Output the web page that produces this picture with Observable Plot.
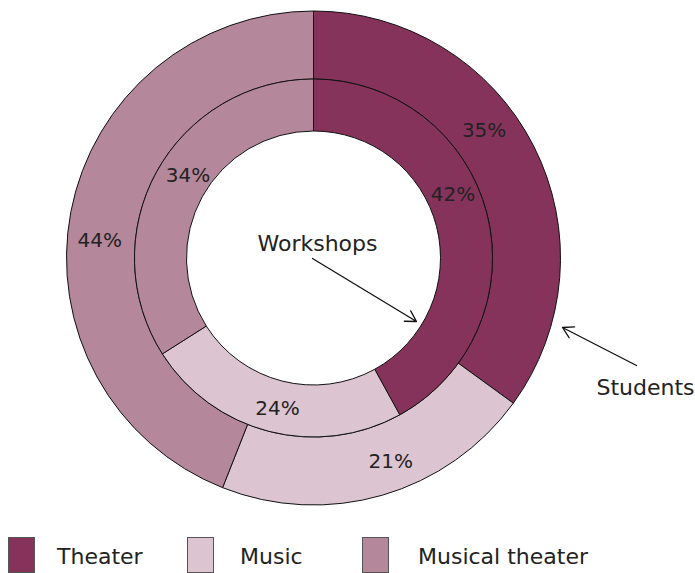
<!DOCTYPE html>
<html>
<head>
<meta charset="utf-8">
<script src="https://cdn.jsdelivr.net/npm/d3@7"></script>
<script src="https://cdn.jsdelivr.net/npm/@observablehq/plot@0.6"></script>
<style>
  html, body { margin: 0; padding: 0; background: #fff; }
  body { width: 695px; height: 573px; overflow: hidden; position: relative; font-family: "DejaVu Sans", sans-serif; color: #222; }
  #legend { position: absolute; left: 0; top: 537px; width: 695px; height: 36px; }
  .sw { position: absolute; top: 0; width: 27px; height: 36px; border: 1px solid #555; box-sizing: border-box; }
  .lb { position: absolute; top: 7px; font-size: 22px; line-height: 26px; color: #222; }
</style>
</head>
<body>
<div id="chart"></div>
<div id="legend"></div>
<script>
// ---- data ----
const categories = ["Theater", "Music", "Musical theater"];
const colors = ["#86335b", "#dcc5d1", "#b5879b"];
const studentsPct = [35, 21, 44];
const workshopsPct = [42, 24, 34];
const ringNames = ["Students", "Workshops"];

// ---- layout constants ----
const W = 695, H = 530;
const cx = 313.5, cy = 258;
// label placement (degrees clockwise from top, radius) per category, as in the reference
const studentsLabelPos = [[53, 213], [159.3, 217], [274.8, 215]];
const workshopsLabelPos = [[65.3, 153], [193.7, 154], [303.5, 151]];
const rings = [
  {name: "Students", values: studentsPct, inner: 179, outer: 247, labelPos: studentsLabelPos},
  {name: "Workshops", values: workshopsPct, inner: 127, outer: 179, labelPos: workshopsLabelPos}
];

const pie = d3.pie().sort(null).value(d => d.value);
const slices = [];
for (const ring of rings) {
  const arcs = pie(categories.map((c, i) => ({category: c, value: ring.values[i], color: colors[i], idx: i})));
  for (const a of arcs) slices.push({...a, ring});
}

function ringMark(index, scales) {
  const g = d3.create("svg:g");
  const X = scales.x(cx), Y = scales.y(cy);
  for (const s of slices) {
    const arc = d3.arc().innerRadius(s.ring.inner).outerRadius(s.ring.outer);
    g.append("path")
      .attr("d", arc(s))
      .attr("transform", `translate(${X},${Y})`)
      .attr("fill", s.data.color)
      .attr("stroke", "#111")
      .attr("stroke-width", 1);
  }
  return g.node();
}

const labels = slices.map(s => {
  const [deg, r] = s.ring.labelPos[s.data.idx];
  const a = deg * Math.PI / 180;
  return {x: cx + r * Math.sin(a), y: cy - r * Math.cos(a), text: s.data.value + "%"};
});

const annotations = [
  {text: "Workshops", tx: 317, ty: 243, x1: 312, y1: 258, x2: 416, y2: 321},
  {text: "Students", tx: 645, ty: 387, x1: 636, y1: 365, x2: 562, y2: 327}
];

const plot = Plot.plot({
  width: W, height: H,
  margin: 0,
  x: {domain: [0, W], range: [0, W], axis: null},
  y: {domain: [0, H], range: [0, H], axis: null},
  style: {fontFamily: "DejaVu Sans, sans-serif", background: "#fff"},
  marks: [
    ringMark,
    Plot.text(labels, {x: "x", y: "y", text: "text", fontSize: 20, fill: "#222"}),
    Plot.arrow(annotations, {x1: "x1", y1: "y1", x2: "x2", y2: "y2", stroke: "#111", strokeWidth: 1.3, headLength: 14}),
    Plot.text(annotations, {x: "tx", y: "ty", text: "text", fontSize: 22, fill: "#222"})
  ]
});
document.getElementById("chart").appendChild(plot);

// ---- legend ----
const legendX = [{sw: 8, lb: 57}, {sw: 187, lb: 240}, {sw: 362, lb: 418}];
const legend = d3.select("#legend");
categories.forEach((c, i) => {
  legend.append("div").attr("class", "sw").style("left", legendX[i].sw + "px").style("background", colors[i]);
  legend.append("div").attr("class", "lb").style("left", legendX[i].lb + "px").text(c);
});
</script>
</body>
</html>
